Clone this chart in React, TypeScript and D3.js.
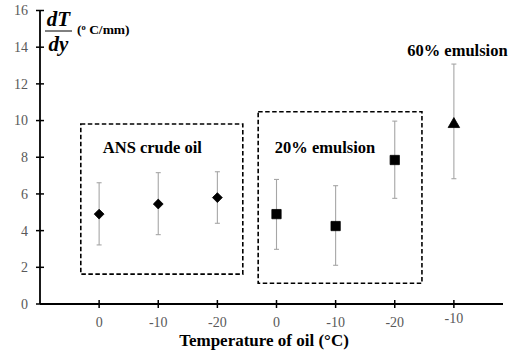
import React, { useEffect, useRef } from "react";
import * as d3 from "d3";

// tick labels along the x axis (one per sample)
const tickLabels = ["0", "-10", "-20", "0", "-10", "-20", "-10"];
const groups = ["crude", "crude", "crude", "e20", "e20", "e20", "e60"];
const values = [4.9, 5.45, 5.8, 4.9, 4.25, 7.85, 9.8];
const errLow = [3.22, 3.78, 4.4, 2.98, 2.11, 5.76, 6.83];
const errHigh = [6.61, 7.16, 7.21, 6.79, 6.45, 9.97, 13.08];
const yTicks = [0, 2, 4, 6, 8, 10, 12, 14, 16];

// dashed group boxes, in data units
const boxes = [
  { x0: 0.69, x1: 3.43, y0: 1.63, y1: 9.81 },
  { x0: 3.69, x1: 6.46, y0: 1.13, y1: 10.48 },
];
const groupLabels = [
  { text: "ANS crude oil", x: 1.9, y: 8.55 },
  { text: "20% emulsion", x: 4.82, y: 8.55 },
  { text: "60% emulsion", x: 7.06, y: 13.85 },
];

const W = 509;
const H = 360;
const font = "'Liberation Serif', 'Times New Roman', serif";

const App = () => {
  const ref = useRef<SVGSVGElement>(null);

  useEffect(() => {
    const svg = d3.select(ref.current);
    svg.selectAll("*").remove();

    const x: any = d3.scaleLinear().domain([0, 8]).range([40, 513]);
    const y: any = d3.scaleLinear().domain([0, 16]).range([304, 10.5]);

    // dashed boxes
    svg
      .selectAll(".box")
      .data(boxes)
      .join("rect")
      .attr("x", (d: any) => x(d.x0))
      .attr("y", (d: any) => y(d.y1))
      .attr("width", (d: any) => x(d.x1) - x(d.x0))
      .attr("height", (d: any) => y(d.y0) - y(d.y1))
      .attr("fill", "none")
      .attr("stroke", "#000")
      .attr("stroke-width", 1.6)
      .attr("stroke-dasharray", "4.5,2.5");

    // y axis
    const yAxis = svg.append("g").attr("transform", `translate(${x(0)},0)`);
    yAxis
      .append("line")
      .attr("y1", y(0))
      .attr("y2", y(16))
      .attr("stroke", "#000")
      .attr("stroke-width", 1.8);
    yAxis
      .selectAll(".yt")
      .data(yTicks)
      .join("line")
      .attr("x1", -4)
      .attr("x2", 4)
      .attr("y1", (d: any) => y(d))
      .attr("y2", (d: any) => y(d))
      .attr("stroke", "#000")
      .attr("stroke-width", 1.5);
    yAxis
      .selectAll(".yl")
      .data(yTicks)
      .join("text")
      .attr("x", -12)
      .attr("y", (d: any) => y(d))
      .attr("dy", "0.35em")
      .attr("text-anchor", "end")
      .attr("font-family", font)
      .attr("font-size", 14)
      .attr("fill", "#595959")
      .text((d: any) => d);

    // x axis
    const xAxis = svg.append("g").attr("transform", `translate(0,${y(0)})`);
    xAxis
      .append("line")
      .attr("x1", x(0))
      .attr("x2", 503)
      .attr("stroke", "#000")
      .attr("stroke-width", 1.8);
    xAxis
      .selectAll(".xt")
      .data(tickLabels)
      .join("line")
      .attr("x1", (_d: any, i: number) => x(i + 1))
      .attr("x2", (_d: any, i: number) => x(i + 1))
      .attr("y1", -4)
      .attr("y2", 4)
      .attr("stroke", "#000")
      .attr("stroke-width", 1.5);
    xAxis
      .selectAll(".xl")
      .data(tickLabels)
      .join("text")
      .attr("x", (_d: any, i: number) => x(i + 1))
      .attr("y", (_d: any, i: number) => (i === 6 ? 18.5 : 22.5))
      .attr("text-anchor", "middle")
      .attr("font-family", font)
      .attr("font-size", 14)
      .attr("fill", "#595959")
      .text((d: any) => d);

    svg
      .append("text")
      .attr("x", 264)
      .attr("y", 346)
      .attr("text-anchor", "middle")
      .attr("font-family", font)
      .attr("font-weight", "bold")
      .attr("font-size", 17)
      .text("Temperature of oil (°C)");

    // y label: dT/dy fraction
    const yl = svg.append("g").attr("font-family", font).attr("font-weight", "bold");
    yl.append("text")
      .attr("x", 58.5)
      .attr("y", 25.5)
      .attr("text-anchor", "middle")
      .attr("font-style", "italic")
      .attr("font-size", 21)
      .text("dT");
    yl.append("line")
      .attr("x1", 45)
      .attr("x2", 72)
      .attr("y1", 31)
      .attr("y2", 31)
      .attr("stroke", "#000")
      .attr("stroke-width", 1);
    yl.append("text")
      .attr("x", 58.5)
      .attr("y", 50.5)
      .attr("text-anchor", "middle")
      .attr("font-style", "italic")
      .attr("font-size", 21)
      .text("dy");
    const unit = yl.append("text").attr("x", 77).attr("y", 34).attr("font-size", 13.5);
    unit.append("tspan").text("(");
    unit.append("tspan").attr("font-size", 8.5).attr("dy", -4.5).text("o");
    unit.append("tspan").attr("dy", 4.5).text(" C/mm)");

    // error bars
    const idx = d3.range(values.length);
    const bars = svg.append("g").attr("stroke", "#a6a6a6").attr("stroke-width", 1.1);
    bars
      .selectAll(".v")
      .data(idx)
      .join("line")
      .attr("x1", (i: number) => x(i + 1))
      .attr("x2", (i: number) => x(i + 1))
      .attr("y1", (i: number) => y(errLow[i]))
      .attr("y2", (i: number) => y(errHigh[i]));
    [errLow, errHigh].forEach((arr) => {
      bars
        .selectAll(null)
        .data(idx)
        .join("line")
        .attr("x1", (i: number) => x(i + 1) - 2.5)
        .attr("x2", (i: number) => x(i + 1) + 2.5)
        .attr("y1", (i: number) => y(arr[i]))
        .attr("y2", (i: number) => y(arr[i]));
    });

    // markers
    const symbolFor: any = {
      crude: d3.symbol().type(d3.symbolDiamond2).size(62),
      e20: d3.symbol().type(d3.symbolSquare2).size(110),
      e60: d3.symbol().type(d3.symbolTriangle2).size(95),
    };
    svg
      .selectAll(".pt")
      .data(idx)
      .join("path")
      .attr("transform", (i: number) => `translate(${x(i + 1)},${y(values[i])})`)
      .attr("d", (i: number) => symbolFor[groups[i]]())
      .attr("fill", "#000")
      .attr("stroke", "#000")
      .attr("stroke-width", 0.8);

    // group labels
    svg
      .selectAll(".gl")
      .data(groupLabels)
      .join("text")
      .attr("x", (d: any) => x(d.x))
      .attr("y", (d: any) => y(d.y))
      .attr("dy", "0.35em")
      .attr("text-anchor", "middle")
      .attr("font-family", font)
      .attr("font-weight", "bold")
      .attr("font-size", 16.5)
      .text((d: any) => d.text);
  }, []);

  return (
    <svg
      ref={ref}
      width={W}
      height={H}
      style={{ position: "absolute", left: 0, top: 0, background: "#fff" }}
    />
  );
};

export default App;
